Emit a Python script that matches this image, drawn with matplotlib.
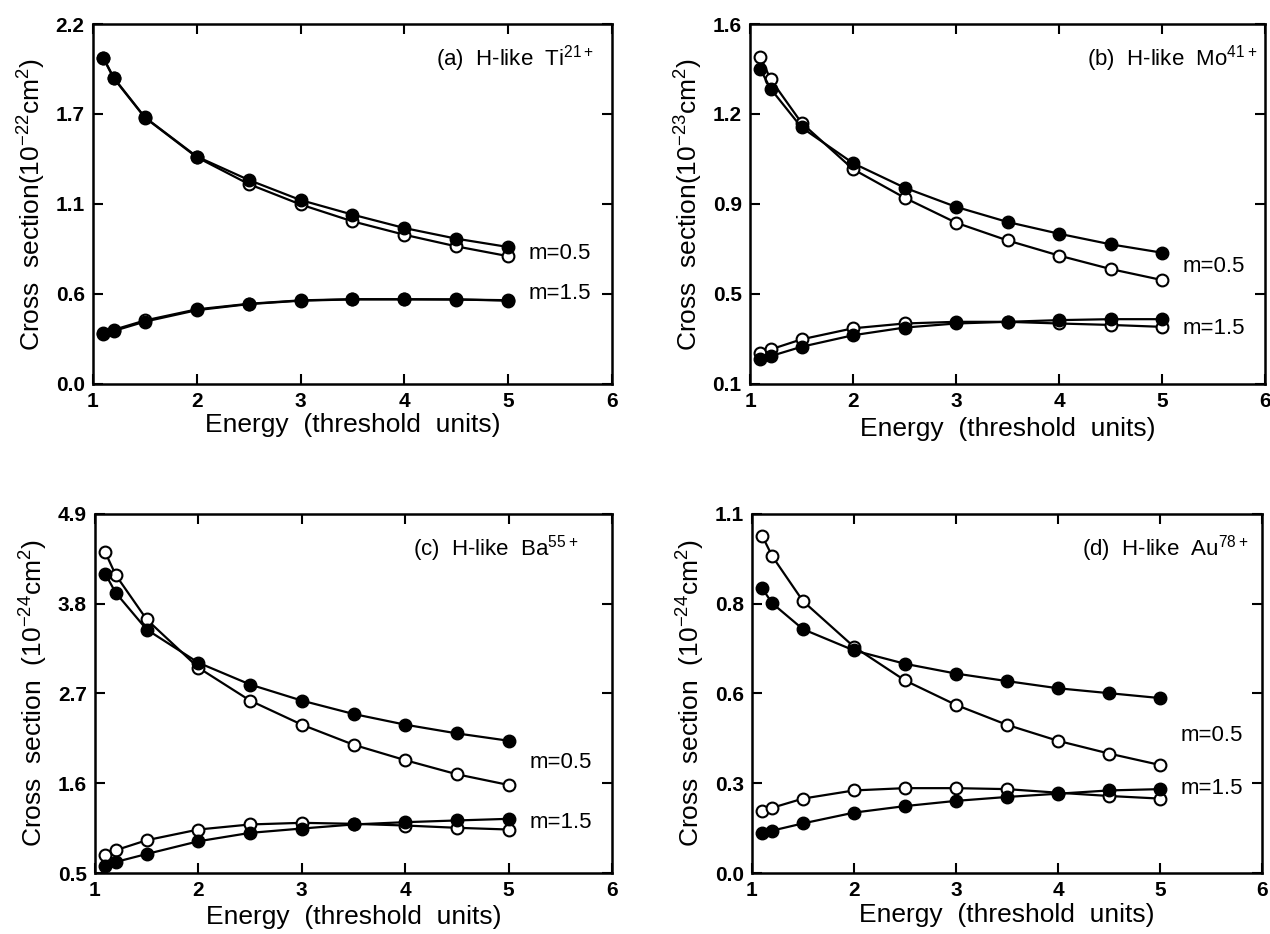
import matplotlib
matplotlib.use("Agg")
import matplotlib.pyplot as plt

plt.rcParams['font.family'] = ['Liberation Sans', 'DejaVu Sans']
plt.rcParams['mathtext.fontset'] = 'custom'
plt.rcParams['mathtext.rm'] = 'Liberation Sans'

# Energy grid (threshold units)
energy = [1.1, 1.2, 1.5, 2.0, 2.5, 3.0, 3.5, 4.0, 4.5, 5.0]

# (a) H-like Ti21+
ti_m05_filled = [1.995, 1.872, 1.630, 1.390, 1.247, 1.124, 1.035, 0.953, 0.888, 0.837]
ti_m05_open = [1.990, 1.868, 1.628, 1.386, 1.222, 1.097, 0.994, 0.912, 0.841, 0.781]
ti_m15_filled = [0.303, 0.324, 0.381, 0.451, 0.488, 0.509, 0.517, 0.517, 0.517, 0.509]
ti_m15_open = [0.312, 0.331, 0.388, 0.456, 0.490, 0.511, 0.518, 0.518, 0.516, 0.512]

# (b) H-like Mo41+
mo_m05_filled = [1.411, 1.330, 1.169, 1.020, 0.918, 0.838, 0.775, 0.726, 0.682, 0.647]
mo_m05_open = [1.463, 1.369, 1.188, 0.995, 0.876, 0.772, 0.698, 0.635, 0.579, 0.533]
mo_m15_filled = [0.202, 0.216, 0.255, 0.303, 0.335, 0.352, 0.359, 0.366, 0.370, 0.370]
mo_m15_open = [0.230, 0.244, 0.286, 0.332, 0.352, 0.359, 0.359, 0.352, 0.346, 0.338]

# (c) H-like Ba55+
ba_m05_filled = [4.165, 3.935, 3.484, 3.077, 2.810, 2.613, 2.449, 2.318, 2.211, 2.121]
ba_m05_open = [4.428, 4.153, 3.607, 3.016, 2.613, 2.318, 2.072, 1.883, 1.710, 1.579]
ba_m15_filled = [0.590, 0.635, 0.733, 0.889, 0.992, 1.045, 1.095, 1.123, 1.144, 1.164]
ba_m15_open = [0.725, 0.779, 0.902, 1.033, 1.095, 1.115, 1.103, 1.082, 1.054, 1.033]

# (d) H-like Au78+
au_m05_filled = [0.872, 0.826, 0.747, 0.682, 0.641, 0.611, 0.588, 0.566, 0.551, 0.536]
au_m05_open = [1.033, 0.970, 0.833, 0.693, 0.590, 0.515, 0.454, 0.405, 0.366, 0.331]
au_m15_filled = [0.123, 0.130, 0.152, 0.185, 0.205, 0.221, 0.233, 0.243, 0.253, 0.257]
au_m15_open = [0.190, 0.200, 0.228, 0.253, 0.260, 0.260, 0.257, 0.246, 0.236, 0.228]

panels = [
    dict(rect=[0.0732, 0.5889, 0.4087, 0.3854], ylim=(0.0, 2.2),
         ylabels=['0.0', '0.6', '1.1', '1.7', '2.2'],
         ylabel=r'Cross  section$(10^{-22}$cm$^{2})$',
         title=r'(a)  H-like  Ti$^{21+}$', tx=0.965,
         series=[ti_m05_filled, ti_m05_open, ti_m15_filled, ti_m15_open],
         m05=0.80, m15=0.555, xlab_pad=1),
    dict(rect=[0.5906, 0.5889, 0.4055, 0.3854], ylim=(0.1, 1.6),
         ylabels=['0.1', '0.5', '0.9', '1.2', '1.6'],
         ylabel=r'Cross  section$(10^{-23}$cm$^{2})$',
         title=r'(b)  H-like  Mo$^{41+}$', tx=0.985,
         series=[mo_m05_filled, mo_m05_open, mo_m15_filled, mo_m15_open],
         m05=0.59, m15=0.33, xlab_pad=4),
    dict(rect=[0.0748, 0.0653, 0.4071, 0.3844], ylim=(0.5, 4.9),
         ylabels=['0.5', '1.6', '2.7', '3.8', '4.9'],
         ylabel=r'Cross  section  $(10^{-24}$cm$^{2})$',
         title=r'(c)  H-like  Ba$^{55+}$', tx=0.935,
         series=[ba_m05_filled, ba_m05_open, ba_m15_filled, ba_m15_open],
         m05=1.85, m15=1.12, xlab_pad=3),
    dict(rect=[0.5921, 0.0653, 0.4016, 0.3844], ylim=(0.0, 1.1),
         ylabels=['0.0', '0.3', '0.6', '0.8', '1.1'],
         ylabel=r'Cross  section  $(10^{-24}$cm$^{2})$',
         title=r'(d)  H-like  Au$^{78+}$', tx=0.975,
         series=[au_m05_filled, au_m05_open, au_m15_filled, au_m15_open],
         m05=0.42, m15=0.26, xlab_pad=2),
]

fig = plt.figure(figsize=(12.7, 9.34), dpi=100)

for p in panels:
    ax = fig.add_axes(p['rect'])
    f05, o05, f15, o15 = p['series']
    for ys in (o05, o15):
        ax.plot(energy, ys, color='black', lw=1.6, marker='o', ms=8.5,
                mfc='white', mec='black', mew=1.5)
    for ys in (f05, f15):
        ax.plot(energy, ys, color='black', lw=1.6, marker='o', ms=9,
                mfc='black', mec='black')

    lo, hi = p['ylim']
    ax.set_xlim(1, 6)
    ax.set_ylim(lo, hi)
    step = (hi - lo) / 4
    ax.set_yticks([lo + i * step for i in range(5)])
    ax.set_yticklabels(p['ylabels'])
    ax.set_xticks([1, 2, 3, 4, 5, 6])
    ax.set_xticklabels(['1', '2', '3', '4', '5', '6'])
    ax.tick_params(direction='in', length=7, width=1.5, top=True, right=True,
                   labelsize=15, pad=6)
    for lab in ax.get_xticklabels() + ax.get_yticklabels():
        lab.set_fontweight('bold')
    for sp in ax.spines.values():
        sp.set_linewidth(1.8)

    ax.set_xlabel('Energy  (threshold  units)', fontsize=19, labelpad=p['xlab_pad'])
    ax.set_ylabel(p['ylabel'], fontsize=19, labelpad=6)
    ax.text(p['tx'], 0.885, p['title'], transform=ax.transAxes, ha='right',
            fontsize=16)
    ax.text(5.2, p['m05'], 'm=0.5', fontsize=16, va='center', ha='left')
    ax.text(5.2, p['m15'], 'm=1.5', fontsize=16, va='center', ha='left')

fig.savefig('out.png', dpi=100)
